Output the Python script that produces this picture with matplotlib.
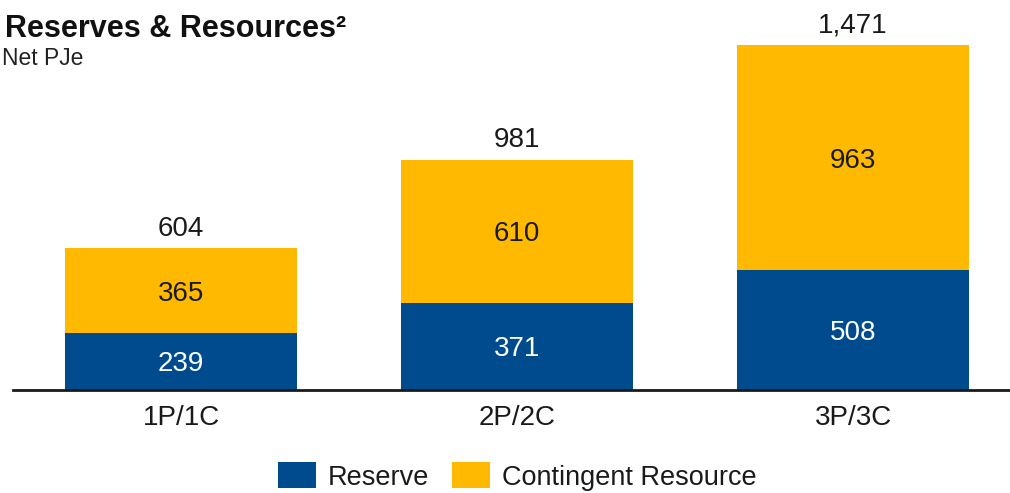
import matplotlib.pyplot as plt
from matplotlib.patches import Patch

categories = ["1P/1C", "2P/2C", "3P/3C"]
reserve = [239, 371, 508]
contingent = [365, 610, 963]
totals = [604, 981, 1471]

BLUE = "#004B8D"
YELLOW = "#FFB900"

plt.rcParams["font.family"] = ["Liberation Sans", "DejaVu Sans"]

fig = plt.figure(figsize=(10.10, 4.93), dpi=100)
ax = fig.add_axes([13 / 1010, 1 - 389.5 / 493, 997 / 1010, 389.5 / 493])

x = list(range(len(categories)))
width = 0.69
ax.bar(x, reserve, width, color=BLUE, zorder=2)
ax.bar(x, contingent, width, bottom=reserve, color=YELLOW, zorder=2)

for xi, r, c, t in zip(x, reserve, contingent, totals):
    ax.text(xi, r / 2, f"{r:,}", ha="center", va="center_baseline", color="white", fontsize=20)
    ax.text(xi, r + c / 2, f"{c:,}", ha="center", va="center_baseline", color="#1a1a1a", fontsize=20)
    ax.annotate(f"{t:,}", (xi, t), xytext=(0, 4.5), textcoords="offset points",
                ha="center", va="bottom", color="#1a1a1a", fontsize=20)

ax.set_xlim(-0.5, 2.467)
ax.set_ylim(0, 1662)
ax.set_xticks(x)
ax.set_xticklabels(categories, fontsize=20, color="#1a1a1a")
ax.tick_params(axis="x", length=0, pad=11)
ax.set_yticks([])
for s in ["top", "right", "left"]:
    ax.spines[s].set_visible(False)
ax.spines["bottom"].set_linewidth(2)
ax.spines["bottom"].set_color("#1a1a1a")
ax.spines["bottom"].set_zorder(3)

fig.text(5 / 1010, 1 - 37 / 493, "Reserves & Resources²", fontsize=22, fontweight="bold",
         color="#111111", ha="left", va="baseline")
fig.text(2 / 1010, 1 - 65 / 493, "Net PJe", fontsize=16.5, color="#222222",
         ha="left", va="baseline")

handles = [Patch(facecolor=BLUE, label="Reserve"), Patch(facecolor=YELLOW, label="Contingent Resource")]
fig.legend(handles=handles, loc="center", bbox_to_anchor=(517 / 1010, 1 - 476.5 / 493), ncol=2,
           frameon=False, fontsize=19.5, handlelength=1.42, handleheight=1.1,
           handletextpad=0.42, columnspacing=0.85, labelcolor="#1a1a1a",
           borderpad=0, borderaxespad=0)

fig.savefig("out.png", dpi=100)
